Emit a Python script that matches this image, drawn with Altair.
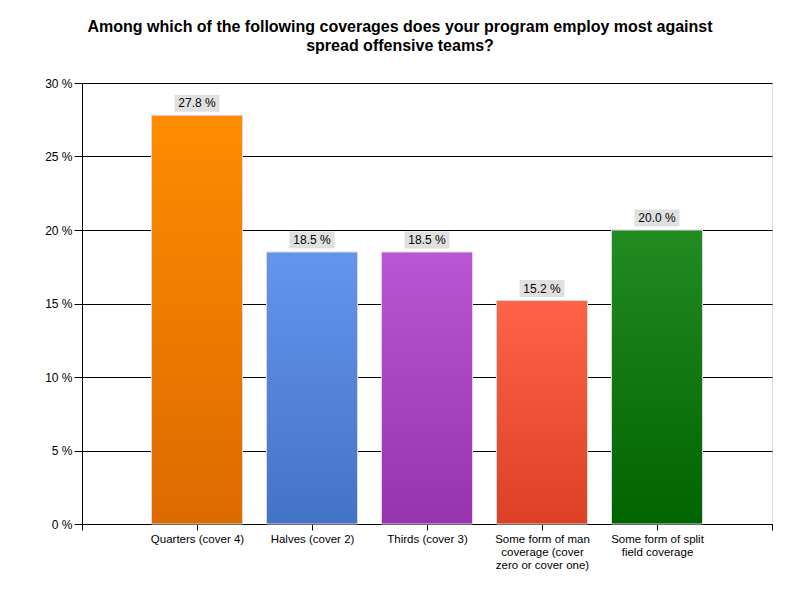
import altair as alt
import pandas as pd

categories = [
    "Quarters (cover 4)",
    "Halves (cover 2)",
    "Thirds (cover 3)",
    "Some form of man coverage (cover zero or cover one)",
    "Some form of split field coverage",
]
label_lines = [
    ["Quarters (cover 4)"],
    ["Halves (cover 2)"],
    ["Thirds (cover 3)"],
    ["Some form of man", "coverage (cover", "zero or cover one)"],
    ["Some form of split", "field coverage"],
]
values = [27.8, 18.5, 18.5, 15.2, 20.0]
top_colors = ["#FF8C00", "#6495ED", "#BA55D3", "#FF6347", "#228B22"]
bottom_colors = ["#DC6A00", "#4472C6", "#9733AE", "#DC4125", "#006400"]
y_ticks = [0, 5, 10, 15, 20, 25, 30]
title_lines = [
    "Among which of the following coverages does your program employ most against",
    "spread offensive teams?",
]

FONT = "Liberation Sans"

df = pd.DataFrame({
    "category": categories,
    "pos": list(range(1, len(categories) + 1)),
    "value": values,
})

# label expression for multi-line category labels at positions 1..n
expr = "''"
for i in range(len(label_lines) - 1, -1, -1):
    arr = "[" + ",".join("'" + s + "'" for s in label_lines[i]) + "]"
    expr = f"datum.value == {i + 1} ? {arr} : ({expr})"

x_scale = alt.Scale(domain=[0, len(categories) + 1], nice=False, zero=False, padding=0)
y_scale = alt.Scale(domain=[0, 30], nice=False)

x_axis = alt.Axis(
    values=list(range(0, len(categories) + 2)),
    labelExpr=expr,
    title=None,
    grid=False,
    tickSize=6,
    tickColor="black",
    domainColor="black",
    labelColor="black",
    labelFont=FONT,
    labelFontSize=11.5,
    labelLineHeight=13,
    labelPadding=3,
    labelAngle=0,
    labelFlush=False,
    labelOverlap=False,
    labelBound=False,
)
y_axis = alt.Axis(
    values=y_ticks,
    labelExpr="datum.value + ' %'",
    title=None,
    grid=True,
    gridColor="black",
    gridOpacity=1,
    tickSize=8,
    tickColor="black",
    domainColor="black",
    labelColor="black",
    labelFont=FONT,
    labelFontSize=12,
    labelPadding=2,
)

base = alt.Chart(df)

layers = []
for i in range(len(categories)):
    grad = alt.Gradient(
        gradient="linear",
        stops=[
            alt.GradientStop(color=top_colors[i], offset=0),
            alt.GradientStop(color=bottom_colors[i], offset=1),
        ],
        x1=0, x2=0, y1=0, y2=1,
    )
    layer = base.transform_filter(alt.datum.pos == i + 1).mark_bar(
        width=91, color=grad, stroke="#D8D8D8", strokeWidth=1
    ).encode(
        x=alt.X("pos:Q", scale=x_scale, axis=x_axis),
        y=alt.Y("value:Q", scale=y_scale, axis=y_axis),
    )
    layers.append(layer)

box = base.mark_point(
    shape="M-1,-0.378L1,-0.378L1,0.378L-1,0.378Z",
    size=2025,
    filled=True,
    color="#E0E0E0",
    opacity=1,
    yOffset=-12,
).encode(
    x=alt.X("pos:Q", scale=x_scale),
    y=alt.Y("value:Q", scale=y_scale),
)

labels = base.transform_calculate(
    label="format(datum.value, '.1f') + ' %'"
).mark_text(
    font=FONT, fontSize=12, color="black", baseline="middle", align="center", yOffset=-12
).encode(
    x=alt.X("pos:Q", scale=x_scale),
    y=alt.Y("value:Q", scale=y_scale),
    text="label:N",
)

chart = alt.layer(*layers, box, labels).properties(
    width=690,
    height=441,
    title=alt.TitleParams(
        text=title_lines,
        font=FONT,
        fontSize=16,
        fontWeight="bold",
        color="black",
        anchor="middle",
        dx=-27,
        offset=23,
        lineHeight=19,
    ),
    autosize=alt.AutoSizeParams(type="none"),
    padding={"left": 74, "top": 75, "right": 20, "bottom": 68},
).configure_view(stroke=None).configure(background="white")

chart.save("out.html", embed_options={"renderer": "svg", "actions": False})
